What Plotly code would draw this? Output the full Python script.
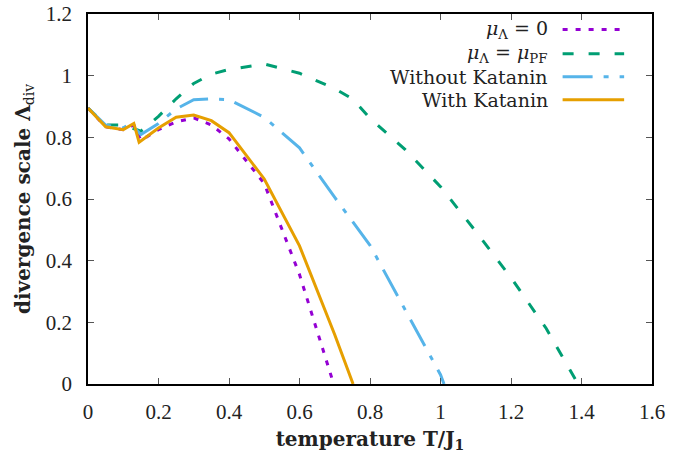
import plotly.graph_objects as go

# ---- data ----
T_mu0 = [0, 0.05, 0.1, 0.13, 0.15, 0.2, 0.25, 0.3, 0.35, 0.4, 0.5, 0.6, 0.697]
L_mu0 = [0.895, 0.834, 0.825, 0.84, 0.79, 0.825, 0.85, 0.863, 0.84, 0.795, 0.65, 0.355, 0.0]

T_pf = [0, 0.05, 0.1, 0.15, 0.2, 0.25, 0.3, 0.35, 0.4, 0.5, 0.6, 0.7, 0.75, 0.8, 0.9, 1.0, 1.1, 1.2, 1.3, 1.39]
L_pf = [0.895, 0.84, 0.84, 0.82, 0.868, 0.925, 0.975, 1.005, 1.02, 1.038, 1.008, 0.958, 0.925, 0.862, 0.76, 0.64, 0.495, 0.345, 0.18, 0.0]

T_wo = [0, 0.05, 0.1, 0.12, 0.15, 0.2, 0.25, 0.3, 0.35, 0.4, 0.5, 0.6, 0.7, 0.8, 0.9, 1.0, 1.01]
L_wo = [0.895, 0.84, 0.83, 0.845, 0.809, 0.845, 0.892, 0.922, 0.925, 0.922, 0.865, 0.766, 0.605, 0.45, 0.24, 0.03, 0.0]

T_kat = [0, 0.05, 0.1, 0.13, 0.145, 0.2, 0.25, 0.3, 0.35, 0.4, 0.5, 0.6, 0.7, 0.752]
L_kat = [0.895, 0.834, 0.825, 0.845, 0.784, 0.83, 0.865, 0.872, 0.854, 0.815, 0.665, 0.448, 0.16, 0.0]

series_names = ["<i>μ</i><sub>Λ</sub> = 0",
                "<i>μ</i><sub>Λ</sub> = <i>μ</i><sub>PF</sub>",
                "Without Katanin",
                "With Katanin"]

x_ticks = [0, 0.2, 0.4, 0.6, 0.8, 1.0, 1.2, 1.4, 1.6]
y_ticks = [0, 0.2, 0.4, 0.6, 0.8, 1.0, 1.2]

# ---- styles ----
colors = ["#9400D3", "#009E73", "#56B4E9", "#E69F00"]
dashes = ["5px,8px", "11px,15px", "30px,11px,5px,11px", "solid"]
LW = 3

fig = go.Figure()
for (tx, ly), name, c, d in zip([(T_mu0, L_mu0), (T_pf, L_pf), (T_wo, L_wo), (T_kat, L_kat)],
                                 series_names, colors, dashes):
    fig.add_trace(go.Scatter(x=tx, y=ly, mode="lines", name=name,
                             line=dict(color=c, width=LW, dash=d), showlegend=False))

# ---- manual gnuplot-style legend (text right, sample on the right) ----
leg_y = [0.958, 0.8926, 0.8305, 0.7684]
for name, c, d, yy in zip(series_names, colors, dashes, leg_y):
    fig.add_annotation(x=0.8185, y=yy, xref="paper", yref="paper", text=name,
                       showarrow=False, xanchor="right", yanchor="middle",
                       font=dict(family="DejaVu Serif", size=19, color="#222"))
    fig.add_shape(type="line", xref="paper", yref="paper", x0=0.8415, x1=0.9506,
                  y0=yy, y1=yy, line=dict(color=c, width=LW, dash=d))

axis_common = dict(showline=True, linecolor="black", linewidth=1.5, mirror="ticks",
                   ticks="inside", ticklen=6, tickwidth=1.2, tickcolor="#555",
                   showgrid=False, zeroline=False, automargin=False,
                   ticklabeloverflow="allow",
                   tickfont=dict(family="Liberation Serif", size=21, color="#222"))

fig.update_layout(
    width=693, height=458,
    margin=dict(l=88, r=41, t=14, b=74),
    plot_bgcolor="white", paper_bgcolor="white",
    xaxis=dict(range=[0, 1.6], tickvals=x_ticks,
               ticktext=[("%g" % v) for v in x_ticks],
               ticklabelstandoff=8,
               title=dict(text="temperature T/J<sub>1</sub>",
                          font=dict(family="DejaVu Serif", size=20, color="#222", weight="bold"),
                          standoff=9),
               **axis_common),
    yaxis=dict(range=[0, 1.2], tickvals=y_ticks,
               ticktext=[("%g" % v) for v in y_ticks],
               ticklabelstandoff=10,
               title=dict(text="divergence scale Λ<sub><span style='font-weight:normal'>div</span></sub>",
                          font=dict(family="DejaVu Serif", size=20, color="#222", weight="bold"),
                          standoff=10),
               **axis_common),
)

# remove the default 8px page margin so the figure sits at the window's corner
fig.write_html("out.html", config={"displayModeBar": False},
               post_script="document.body.style.margin='0';")
